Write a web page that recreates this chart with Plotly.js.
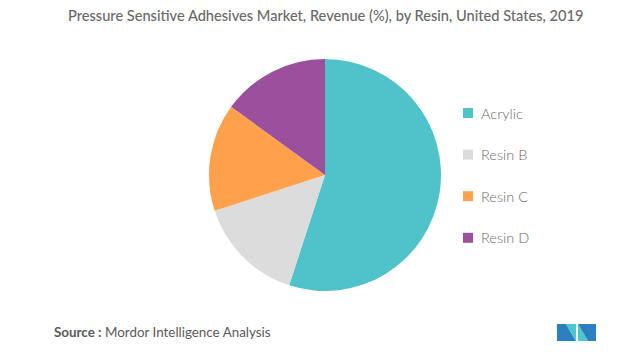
<!DOCTYPE html>
<html>
<head>
<meta charset="utf-8">
<script src="https://cdn.plot.ly/plotly-3.0.1.min.js"></script>
<style>html,body{margin:0;padding:0;background:#fff;}#chart{width:644px;height:352px;}</style>
</head>
<body>
<div id="chart"></div>
<script>
const categories = ["Acrylic", "Resin B", "Resin C", "Resin D"];
const revenueShare = [55, 15, 15, 15];
const sliceColors = ["#4FC3C9", "#DCDCDC", "#FFA04A", "#9B509E"];
const chartTitle = "Pressure Sensitive Adhesives Market, Revenue (%), by Resin, United States, 2019";
const sourceText = "<b>Source :</b> Mordor Intelligence Analysis";

const W = 644, H = 352;
const px = x => x / W;
const py = y => 1 - y / H;

const shapes = [];
const annotations = [];

// manual legend
const legX = 463, legTextX = 479, legY0 = 113, legGap = 41.6;
categories.forEach((c, i) => {
  const cy = legY0 + i * legGap;
  shapes.push({type: "rect", xref: "paper", yref: "paper",
    x0: px(legX), x1: px(legX + 10), y0: py(cy + 5), y1: py(cy - 5),
    fillcolor: sliceColors[i], line: {width: 0}});
  annotations.push({xref: "paper", yref: "paper", x: px(legTextX), y: py(cy),
    xanchor: "left", yanchor: "middle", showarrow: false, text: c,
    font: {family: "Lato, sans-serif", size: 14.5, color: "#6a6a6a", weight: 300}});
});

// title
annotations.push({xref: "paper", yref: "paper", x: px(325), y: py(16),
  xanchor: "center", yanchor: "middle", showarrow: false, text: chartTitle,
  font: {family: "Lato, sans-serif", size: 14.6, color: "#686868", weight: 500}});
// source
annotations.push({xref: "paper", yref: "paper", x: px(52), y: py(332),
  xanchor: "left", yanchor: "middle", showarrow: false, text: sourceText,
  font: {family: "Lato, sans-serif", size: 13.4, color: "#5a5a5a", weight: 400}});

// logo (decorative)
function poly(pts, color) {
  const d = pts.map((p, k) => (k ? "L" : "M") + px(p[0]) + "," + py(p[1])).join(" ") + " Z";
  shapes.push({type: "path", xref: "paper", yref: "paper", path: d, fillcolor: color, line: {width: 0}});
}
poly([[557,324],[566,324],[576,341],[557,341]], "#2E7FBF");
poly([[566,324],[576,324],[576,341]], "#4CC6CF");
poly([[578,324],[578,341],[588,341]], "#4CC6CF");
poly([[578,324],[596,324],[596,341],[588,341]], "#2E7FBF");

const data = [{
  type: "pie",
  labels: categories,
  values: revenueShare,
  marker: {colors: sliceColors, line: {width: 0}},
  sort: false,
  direction: "clockwise",
  rotation: 0,
  textinfo: "none",
  hoverinfo: "label+percent",
  showlegend: false,
  domain: {x: [px(209), px(441)], y: [py(291), py(59)]}
}];

const layout = {
  width: W, height: H,
  margin: {l: 0, r: 0, t: 0, b: 0},
  paper_bgcolor: "#ffffff",
  showlegend: false,
  shapes: shapes,
  annotations: annotations
};

Plotly.newPlot("chart", data, layout, {displayModeBar: false, staticPlot: true});
</script>
</body>
</html>
